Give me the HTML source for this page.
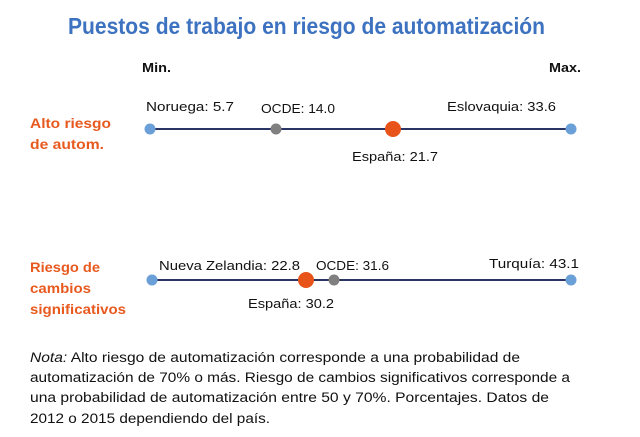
<!DOCTYPE html>
<html><head><meta charset="utf-8"><style>
html,body{margin:0;padding:0;background:#fff;width:640px;height:437px;overflow:hidden}
svg{display:block}
</style></head><body>
<svg width="640" height="437" xmlns="http://www.w3.org/2000/svg" font-family="Liberation Sans, sans-serif">
<text x="68" y="34" font-size="23" font-weight="bold" fill="#3d72c0" textLength="477" lengthAdjust="spacingAndGlyphs">Puestos de trabajo en riesgo de automatización</text>
<text x="142" y="72" font-size="13" font-weight="bold" fill="#111" textLength="29" lengthAdjust="spacingAndGlyphs">Min.</text>
<text x="549" y="72" font-size="13" font-weight="bold" fill="#111" textLength="32" lengthAdjust="spacingAndGlyphs">Max.</text>

<text x="30" y="128" font-size="14" font-weight="bold" fill="#e8591f" textLength="81" lengthAdjust="spacingAndGlyphs">Alto riesgo</text>
<text x="30" y="149" font-size="14" font-weight="bold" fill="#e8591f" textLength="74" lengthAdjust="spacingAndGlyphs">de autom.</text>
<line x1="150" y1="129" x2="571" y2="129" stroke="#2a3566" stroke-width="2"/>
<circle cx="150" cy="129" r="5.5" fill="#6a9fd8"/>
<circle cx="276" cy="129" r="5.5" fill="#808080"/>
<circle cx="393" cy="129" r="8" fill="#e8531a"/>
<circle cx="571" cy="129" r="5.5" fill="#6a9fd8"/>
<text x="146" y="111" font-size="13" fill="#111" textLength="88" lengthAdjust="spacingAndGlyphs">Noruega: 5.7</text>
<text x="261" y="113" font-size="13" fill="#111" textLength="74" lengthAdjust="spacingAndGlyphs">OCDE: 14.0</text>
<text x="447" y="111" font-size="13" fill="#111" textLength="109" lengthAdjust="spacingAndGlyphs">Eslovaquia: 33.6</text>
<text x="352" y="161" font-size="13" fill="#111" textLength="86" lengthAdjust="spacingAndGlyphs">España: 21.7</text>

<text x="30" y="272" font-size="14" font-weight="bold" fill="#e8591f" textLength="70" lengthAdjust="spacingAndGlyphs">Riesgo de</text>
<text x="30" y="293" font-size="14" font-weight="bold" fill="#e8591f" textLength="61" lengthAdjust="spacingAndGlyphs">cambios</text>
<text x="30" y="314" font-size="14" font-weight="bold" fill="#e8591f" textLength="96" lengthAdjust="spacingAndGlyphs">significativos</text>
<line x1="152" y1="280" x2="571" y2="280" stroke="#2a3566" stroke-width="2"/>
<circle cx="152" cy="280" r="5.5" fill="#6a9fd8"/>
<circle cx="334" cy="280" r="5.5" fill="#808080"/>
<circle cx="306" cy="280" r="8" fill="#e8531a"/>
<circle cx="571" cy="280" r="5.5" fill="#6a9fd8"/>
<text x="159" y="270" font-size="13" fill="#111" textLength="141" lengthAdjust="spacingAndGlyphs">Nueva Zelandia: 22.8</text>
<text x="316" y="270" font-size="13" fill="#111" textLength="73" lengthAdjust="spacingAndGlyphs">OCDE: 31.6</text>
<text x="489" y="268" font-size="13" fill="#111" textLength="90" lengthAdjust="spacingAndGlyphs">Turquía: 43.1</text>
<text x="248" y="308" font-size="13" fill="#111" textLength="86" lengthAdjust="spacingAndGlyphs">España: 30.2</text>

<g font-size="13.5" fill="#111">
<text x="30" y="362" textLength="490" lengthAdjust="spacingAndGlyphs"><tspan font-style="italic">Nota:</tspan> Alto riesgo de automatización corresponde a una probabilidad de</text>
<text x="30" y="382" textLength="540" lengthAdjust="spacingAndGlyphs">automatización de 70% o más.  Riesgo de cambios significativos corresponde a</text>
<text x="30" y="402" textLength="519" lengthAdjust="spacingAndGlyphs">una probabilidad de automatización entre 50 y 70%. Porcentajes. Datos de</text>
<text x="30" y="423" textLength="240" lengthAdjust="spacingAndGlyphs">2012 o 2015 dependiendo del país.</text>
</g>
</svg>
</body></html>
